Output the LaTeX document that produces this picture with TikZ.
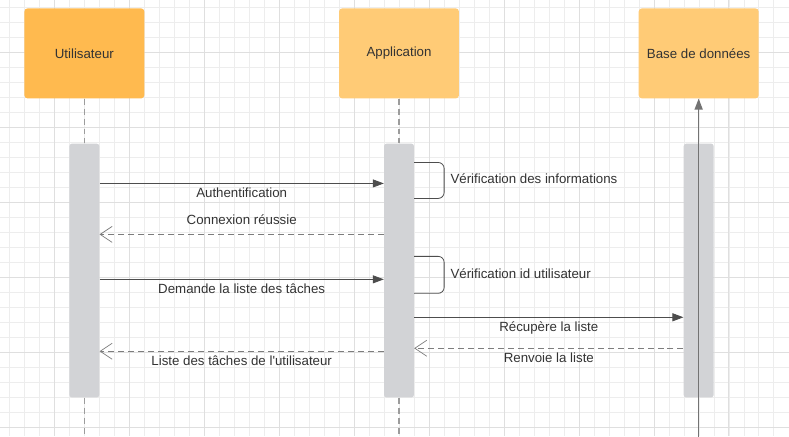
\documentclass[tikz,border=0pt]{standalone}
\usepackage{fontspec}
\setmainfont{Liberation Sans}
\usepackage{tikz}
\usetikzlibrary{arrows.meta,positioning}
\definecolor{gridminor}{HTML}{EDEDED}
\definecolor{gridmajor}{HTML}{DFDFDF}
\definecolor{actordark}{HTML}{FFBA4F}
\definecolor{actorlight}{HTML}{FFCB76}
\definecolor{bargray}{HTML}{D2D3D6}
\definecolor{linegray}{HTML}{4D4D4D}
\definecolor{lifegray}{HTML}{9C9C9C}
\definecolor{textgray}{HTML}{333333}

\begin{document}
\begin{tikzpicture}[x=1pt, y=-1pt,
		font=\fontsize{13.3}{16}\selectfont, text=textgray,
		actor/.style={rounded corners=3pt, minimum width=120pt, minimum height=90pt, inner sep=0pt},
		bar/.style={fill=bargray, rounded corners=2.5pt, minimum width=30pt, minimum height=254pt, inner sep=0pt},
		lifeline/.style={draw=lifegray, line width=1.3pt, dash pattern=on 6pt off 4pt},
		msg/.style={draw=linegray, line width=0.8pt, -{Triangle[length=11pt,width=8pt]}},
		reply/.style={draw=lifegray!80!black, line width=0.8pt, dash pattern=on 6pt off 4pt, -{Straight Barb[length=12pt,width=16pt,line width=0.7pt]}},
		selfcall/.style={draw=linegray, line width=0.8pt, rounded corners=6pt},
		lbl/.style={inner sep=2pt, text height=10pt, text depth=3pt}]
		\fill[white] (0,0) rectangle (789,436);
		\foreach \gx in {9.3,24.3,...,789} \draw[gridminor, line width=0.8pt] (\gx,0) -- (\gx,436);
		\foreach \gy in {7.3,22.3,...,436} \draw[gridminor, line width=0.8pt] (0,\gy) -- (789,\gy);
		\foreach \gx in {54.3,129.3,...,789} \draw[gridmajor, line width=0.9pt] (\gx,0) -- (\gx,436);
		\foreach \gy in {52.3,127.3,...,436} \draw[gridmajor, line width=0.9pt] (0,\gy) -- (789,\gy);
		\useasboundingbox (0,0) rectangle (789,436);

		\node[actor, fill=actordark] (user) at (84,53) {Utilisateur};
		\node[actor, fill=actorlight] (app) at (399,53) {Application};
		\node[actor, fill=actorlight] (db) at (699,53) {Base de données};

		\node[bar, below=45pt of user] (ubar) {};
		\node[bar, below=45pt of app] (abar) {};
		\node[bar, below=45pt of db] (dbar) {};

		\coordinate (uend) at (84,437);
		\coordinate (aend) at (399,437);
		\coordinate (dend) at (699,437);

		\draw[lifeline] (user) -- (ubar);
		\draw[lifeline] (app) -- (abar);
		\draw[lifeline] (ubar) -- (uend);
		\draw[lifeline] (abar) -- (aend);
		\draw[draw=gray!90!black, line width=1.3pt, -{Triangle[length=11pt,width=8pt]}] (dend) -- (db);

		\draw[msg] ([yshift=-40pt]ubar.north east) -- node[lbl, below=2pt] {Authentification} ([yshift=-40pt]abar.north west);
		\draw[selfcall] ([yshift=-19pt]abar.north east) -- ++(30,0) -- node[lbl, right=4pt] {Vérification des informations} ++(0,36) -- ++(-30,0);
		\draw[reply] ([yshift=-91pt]abar.north west) -- node[lbl, above=4pt] {Connexion réussie} ([yshift=-91pt]ubar.north east);
		\draw[selfcall] ([yshift=-113pt]abar.north east) -- ++(30,0) -- node[lbl, right=4pt] {Vérification id utilisateur} ++(0,37) -- ++(-30,0);
		\draw[msg] ([yshift=-136pt]ubar.north east) -- node[lbl, below=2pt] {Demande la liste des tâches} ([yshift=-136pt]abar.north west);
		\draw[msg] ([yshift=-174pt]abar.north east) -- node[lbl, below=2pt] {Récupère la liste} ([yshift=-174pt]dbar.north west);
		\draw[reply] ([yshift=-205pt]dbar.north west) -- node[lbl, below=2pt] {Renvoie la liste} ([yshift=-205pt]abar.north east);
		\draw[reply] ([yshift=-208pt]abar.north west) -- node[lbl, below=2pt] {Liste des tâches de l\textquotesingle utilisateur} ([yshift=-208pt]ubar.north east);
	\end{tikzpicture}
\end{document}
